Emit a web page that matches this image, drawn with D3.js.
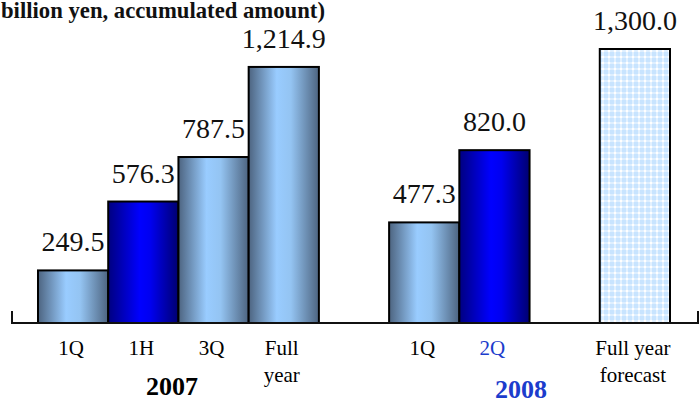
<!DOCTYPE html>
<html>
<head>
<meta charset="utf-8">
<script src="https://cdn.jsdelivr.net/npm/d3@7"></script>
<style>
  body { margin: 0; background: #fff; }
  svg { display: block; }
</style>
</head>
<body>
<svg width="699" height="400"></svg>
<script>
// slots along the x axis, empty strings are gaps between groups
var slots = ["1Q07", "1H07", "3Q07", "FY07", "", "1Q08", "2Q08", "", "FY08"];
var bars = ["1Q07", "1H07", "3Q07", "FY07", "1Q08", "2Q08", "FY08"];
var values = [249.5, 576.3, 787.5, 1214.9, 477.3, 820.0, 1300.0];
var styles = ["steel", "navy", "steel", "steel", "steel", "navy", "forecast"];
var catLabels = [["1Q"], ["1H"], ["3Q"], ["Full", "year"], ["1Q"], ["2Q"], ["Full year", "forecast"]];
var catColors = ["#000", "#000", "#000", "#000", "#000", "#1c3ccc", "#000"];
var years = ["2007", "2008"];

var FONT = "Liberation Serif";
var svg = d3.select("svg");
var baseY = 323;

var x = d3.scaleBand()
    .domain(slots.map(function(d, i) { return d || "gap" + i; }))
    .range([38, 670])
    .paddingInner(0);

var y = d3.scaleLinear()
    .domain([0, 1300])
    .range([baseY, 49]);

var defs = svg.append("defs");

var steel = defs.append("linearGradient").attr("id", "steel")
    .attr("x1", "0%").attr("x2", "100%").attr("y1", "0%").attr("y2", "0%");
steel.append("stop").attr("offset", "0%").attr("stop-color", "#4d6480");
steel.append("stop").attr("offset", "40%").attr("stop-color", "#99ccff");
steel.append("stop").attr("offset", "60%").attr("stop-color", "#94c4f2");
steel.append("stop").attr("offset", "100%").attr("stop-color", "#4d6480");

var navy = defs.append("linearGradient").attr("id", "navy")
    .attr("x1", "0%").attr("x2", "100%").attr("y1", "0%").attr("y2", "0%");
navy.append("stop").attr("offset", "0%").attr("stop-color", "#000080");
navy.append("stop").attr("offset", "45%").attr("stop-color", "#0000ff");
navy.append("stop").attr("offset", "60%").attr("stop-color", "#0000f0");
navy.append("stop").attr("offset", "100%").attr("stop-color", "#000070");

// light lattice for the forecast bar
var pat = defs.append("pattern").attr("id", "forecast")
    .attr("patternUnits", "userSpaceOnUse").attr("width", 6).attr("height", 6);
pat.append("rect").attr("width", 6).attr("height", 6).attr("fill", "#c8e4ff");
pat.append("path").attr("d", "M0,3H6M3,0V6").attr("stroke", "#f4faff").attr("stroke-width", 1.2);
pat.append("circle").attr("cx", 3).attr("cy", 3).attr("r", 1.3).attr("fill", "#fff");

// bars
svg.append("g").selectAll("rect")
    .data(bars)
  .enter().append("rect")
    .attr("x", function(d) { return x(d); })
    .attr("y", function(d, i) { return y(values[i]); })
    .attr("width", x.bandwidth())
    .attr("height", function(d, i) { return baseY - y(values[i]); })
    .attr("fill", function(d, i) { return "url(#" + styles[i] + ")"; })
    .attr("stroke", "#000")
    .attr("stroke-width", 2);

// axis baseline with end ticks
svg.append("path")
    .attr("d", "M12,311V" + baseY + "H698V311")
    .attr("fill", "none")
    .attr("stroke", "#111")
    .attr("stroke-width", 2);

// value labels
svg.append("g").selectAll("text")
    .data(bars)
  .enter().append("text")
    .attr("font-family", FONT)
    .attr("x", function(d) { return x(d) + x.bandwidth() / 2; })
    .attr("y", function(d, i) { return y(values[i]) - 19; })
    .attr("text-anchor", "middle")
    .attr("font-size", 28)
    .attr("fill", "#111")
    .text(function(d, i) { return d3.format(",.1f")(values[i]); });

// category labels
var cat = svg.append("g").selectAll("text")
    .data(bars)
  .enter().append("text")
    .attr("font-family", FONT)
    .attr("x", function(d) { return x(d) + x.bandwidth() / 2 - 2; })
    .attr("y", 355)
    .attr("text-anchor", "middle")
    .attr("font-size", 21)
    .attr("fill", function(d, i) { return catColors[i]; });
cat.selectAll("tspan")
    .data(function(d, i) { return catLabels[i]; })
  .enter().append("tspan")
    .attr("x", function() { return d3.select(this.parentNode).attr("x"); })
    .attr("dy", function(d, i) { return i ? 27 : 0; })
    .text(function(d) { return d; });

// year labels
svg.append("text")
    .attr("font-family", FONT)
    .attr("x", 172).attr("y", 395)
    .attr("text-anchor", "middle")
    .attr("font-size", 26).attr("font-weight", "bold")
    .attr("fill", "#000")
    .text(years[0]);
svg.append("text")
    .attr("font-family", FONT)
    .attr("x", 521).attr("y", 398)
    .attr("text-anchor", "middle")
    .attr("font-size", 26).attr("font-weight", "bold")
    .attr("fill", "#1c3ccc")
    .text(years[1]);

// unit caption
svg.append("text")
    .attr("font-family", FONT)
    .attr("x", 1).attr("y", 18)
    .attr("font-size", 22.7).attr("font-weight", "bold")
    .attr("fill", "#111")
    .text("billion yen, accumulated amount)");
</script>
</body>
</html>
